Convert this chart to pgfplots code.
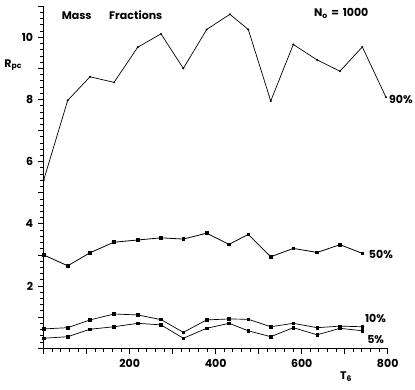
\documentclass[border=0pt]{standalone}
\usepackage{pgfplots}
\pgfplotsset{compat=1.18}
\usepackage{fontspec}
\setmainfont{Poppins}
\newcommand{\lbl}{\bfseries\fontsize{11}{13}\selectfont}
\begin{document}
\begin{tikzpicture}
\begin{axis}[
  name=ax,
  at={(0,0)}, anchor=south west,
  scale only axis,
  width=344pt, height=342pt,
  xmin=0, xmax=800, ymin=0, ymax=11,
  axis lines=left,
  axis line style={-, line width=1pt},
  clip=false,
  tick align=outside,
  major tick length=6pt,
  minor tick length=3.5pt,
  every tick/.style={black, line width=0.8pt},
  xtick={0,100,...,800},
  xticklabels={,,200,,400,,600,,800},
  minor xtick={20,40,...,780},
  ytick={0,1,...,11},
  yticklabels={,,2,,4,,6,,8,,10,},
  minor ytick={0.2,0.4,...,10.8},
  /pgf/number format/assume math mode=true,
  ticklabel style={font=\lbl},
  xticklabel style={yshift=-2pt},
  yticklabel style={xshift=-1pt},
]
\addplot[black, line width=0.7pt, mark=*, mark size=0.6pt] coordinates {
(0,5.41) (55.8,7.97) (107.7,8.73) (163.5,8.55) (218.6,9.68) (272.8,10.11)
(324.7,9.00) (379,10.25) (433,10.74) (475.8,10.25) (528,7.95) (580.5,9.77)
(636,9.27) (689,8.91) (741,9.69) (796,8.07)};
\addplot[black, line width=0.8pt, mark=square*, mark size=1.3pt] coordinates {
(0,3.00) (55.8,2.65) (107.7,3.07) (163.5,3.41) (218.6,3.48) (272.8,3.55)
(324.7,3.51) (379,3.70) (431,3.34) (475.8,3.66) (528,2.94) (580.5,3.21)
(636,3.08) (689,3.33) (741,3.05)};
\addplot[black, line width=0.7pt, mark=square*, mark size=1.2pt] coordinates {
(0,0.62) (55.8,0.66) (107.7,0.91) (163.5,1.10) (218.6,1.07) (272.8,0.92)
(324.7,0.51) (379,0.91) (431,0.94) (475.8,0.93) (528,0.69) (580.5,0.80)
(636,0.66) (689,0.71) (741,0.69)};
\addplot[black, line width=0.7pt, mark=square*, mark size=1.2pt] coordinates {
(0,0.32) (55.8,0.37) (107.7,0.61) (163.5,0.69) (218.6,0.80) (272.8,0.75)
(324.7,0.32) (379,0.64) (431,0.80) (475.8,0.56) (528,0.37) (580.5,0.66)
(636,0.43) (689,0.64) (741,0.56)};
\node[anchor=west, font=\lbl, inner sep=0pt] at (axis cs:803,8.0) {90\%};
\node[anchor=west, font=\lbl, inner sep=0pt] at (axis cs:756,3.0) {50\%};
\node[anchor=west, font=\lbl, inner sep=0pt] at (axis cs:747,0.97) {10\%};
\node[anchor=west, font=\lbl, inner sep=0pt] at (axis cs:752,0.27) {5\%};
\node[font=\lbl] at (axis cs:159,10.71) {Mass\hspace{1.6em}Fractions};
\node[font=\lbl] at (axis cs:692,10.77) {N\textsubscript{o}\,\,=\,\,1000};
\node[font=\lbl] at (axis cs:-71,9.1) {R\textsubscript{pc}};
\node[font=\lbl] at (axis cs:703,-0.93) {T\textsubscript{6}};
\end{axis}
\pgfresetboundingbox
\path (ax.south west) ++(-43.7pt,-40.8pt) rectangle ++(415pt,389pt);
\end{tikzpicture}
\end{document}
